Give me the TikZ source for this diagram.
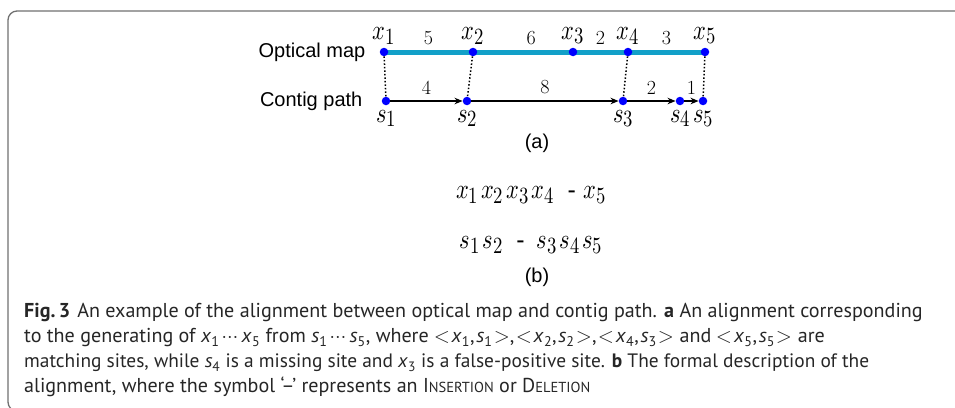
\documentclass[tikz,border=0pt]{standalone}
\usepackage{fontspec}
\usepackage{unicode-math}
\usetikzlibrary{arrows.meta, positioning, backgrounds}
\usepackage{xcolor}
\newfontfamily\arialfont{Liberation Sans}
\newfontfamily\capfont{PT Sans}
\definecolor{MapBlue}{HTML}{12A0C8}
\definecolor{SiteBlue}{HTML}{0000FF}
\definecolor{FrameGray}{HTML}{707070}
\definecolor{CapGray}{HTML}{262626}
\newcommand{\capvar}[2]{\textit{#1}\textsubscript{#2}}
\newcommand{\fakesc}[2]{#1{\fontsize{14.5}{18}\selectfont #2}}
\newcommand{\sitevar}[2]{\scalebox{0.9}[1.12]{$#1\raisebox{-4pt}{$\scriptstyle #2$}$}}
\newcommand{\csp}{\hspace{1.8pt}}
\tikzset{
  site/.style={circle, fill=SiteBlue, inner sep=0pt, minimum size=8.5pt},
  sitelbl/.style={font=\fontsize{24.88}{30}\selectfont, inner sep=1pt},
  num/.style={font=\fontsize{20}{24}\selectfont, inner sep=1pt},
  rowlbl/.style={font=\arialfont\fontsize{20}{24}\selectfont, inner sep=0pt},
  maplink/.style={line width=5pt, draw=MapBlue},
  pathlink/.style={-{Stealth[length=8pt, width=6.5pt]}, line width=1.4pt},
  match/.style={dotted, line width=1.5pt},
  mathrow/.style={font=\fontsize{24.88}{30}\selectfont, inner sep=0pt},
  capline/.style={font=\capfont\fontsize{20.1}{25}\selectfont, text=CapGray,
    anchor=base west, inner sep=0pt},
}

\begin{document}
\begin{tikzpicture}[x=1pt, y=-1pt]
    \useasboundingbox (0,0) rectangle (955,407);
    \clip (0,0) rectangle (955,407);
    \draw[FrameGray, line width=1.3pt, rounded corners=9pt] (8,11) rectangle (990,411);
    % optical map sites
    \node[site] (x1) at (384,52) {};
    \node[site] (x2) at (473,52) {};
    \node[site] (x3) at (573,52) {};
    \node[site] (x4) at (628,52) {};
    \node[site] (x5) at (705,52) {};
    % contig path sites
    \node[site] (s1) at (386,101) {};
    \node[site] (s2) at (467,101) {};
    \node[site] (s3) at (623,101) {};
    \node[site] (s4) at (680,101) {};
    \node[site] (s5) at (703,101) {};
    \foreach \i in {1,...,5} {
      \node[sitelbl, above=2pt of x\i] (lx\i) {\sitevar{x}{\i}};
      \node[sitelbl, below=3.5pt of s\i] (ls\i) {\sitevar{s}{\i}};
    }
    \node[rowlbl, left=14pt of x1] (maprow) {Optical map};
    \node[rowlbl, left=19pt of s1] (pathrow) {Contig path};
    \begin{scope}[on background layer]
      \draw[maplink] (x1.center) -- (x5.center);
    \end{scope}
    \path (x1) -- node[num, midway, above=6pt] {5} (x2);
    \path (x2) -- node[num, pos=0.59, above=6pt] {6} (x3);
    \path (x3) -- node[num, midway, above=6pt] {2} (x4);
    \path (x4) -- node[num, midway, above=6pt] {3} (x5);
    \draw[pathlink] (s1) -- node[num, midway, above=5pt] {4} (s2);
    \draw[pathlink] (s2) -- node[num, midway, above=5pt] {8} (s3);
    \draw[pathlink] (s3) -- node[num, midway, above=5pt] {2} (s4);
    \draw[pathlink] (s4) -- node[num, midway, above=5pt] {1} (s5);
    \draw[match] (x1) -- (s1); \draw[match] (x2) -- (s2);
    \draw[match] (x4) -- (s3); \draw[match] (x5) -- (s5);
    \node[rowlbl] (capa) at (537,143) {(a)};
    % formal description
    \node[mathrow] (xrow) at (531,195) {\sitevar{x}{1}\hspace{3pt}\sitevar{x}{2}\hspace{3pt}\sitevar{x}{3}\hspace{3pt}\sitevar{x}{4}\hspace{14pt}{\arialfont -}\hspace{8pt}\sitevar{x}{5}};
    \node[mathrow] (srow) at (531,245) {\sitevar{s}{1}\hspace{3pt}\sitevar{s}{2}\hspace{14pt}{\arialfont -}\hspace{12pt}\sitevar{s}{3}\hspace{3pt}\sitevar{s}{4}\hspace{3pt}\sitevar{s}{5}};
    \node[rowlbl] (capb) at (537,277) {(b)};
    % caption
    \node[capline] (cap1) at (24,317) {\textbf{Fig.\,3}\hspace{7pt}An example of the alignment between optical map and contig path. \textbf{a} An alignment corresponding};
    \node[capline] (cap2) at (24,342) {to the generating of \capvar{x}{1}\,$\cdots$\,\capvar{x}{5} from \capvar{s}{1}\,$\cdots$\,\capvar{s}{5}, where ${<}$\csp\capvar{x}{1},\csp\capvar{s}{1}\csp${>}$,\csp${<}$\csp\capvar{x}{2},\csp\capvar{s}{2}\csp${>}$,\csp${<}$\csp\capvar{x}{4},\csp\capvar{s}{3}\csp${>}$ and ${<}$\csp\capvar{x}{5},\csp\capvar{s}{5}\csp${>}$ are};
    \node[capline, font=\capfont\fontsize{19.4}{25}\selectfont] (cap3) at (24,367) {matching sites, while \capvar{s}{4} is a missing site and \capvar{x}{3} is a false-positive site. \textbf{b} The formal description of the};
    \node[capline] (cap4) at (24,392) {alignment, where the symbol ‘–’ represents an \fakesc{I}{NSERTION} or \fakesc{D}{ELETION}};
  \end{tikzpicture}
\end{document}
